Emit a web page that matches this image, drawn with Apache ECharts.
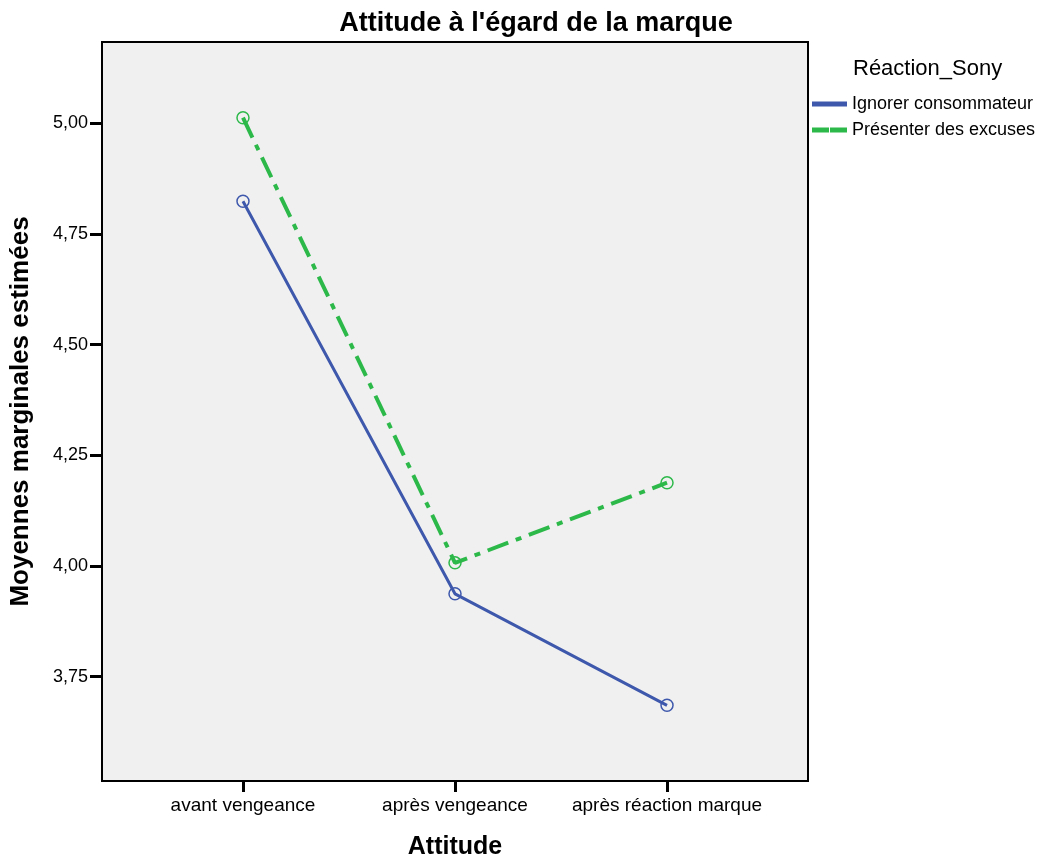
<!DOCTYPE html>
<html>
<head>
<meta charset="utf-8">
<script src="https://cdn.jsdelivr.net/npm/echarts@6/dist/echarts.min.js"></script>
<style>
  html, body { margin: 0; padding: 0; background: #fff; }
  #chart { width: 1052px; height: 865px; }
</style>
</head>
<body>
<div id="chart"></div>
<script>
// categories on x (placed at index 0,1,2)
const categories = ['avant vengeance', 'après vengeance', 'après réaction marque'];
const seriesNames = ['Ignorer consommateur', 'Présenter des excuses'];
const ignorerValues = [4.824, 3.937, 3.685];
const excusesValues = [5.013, 4.007, 4.188];
const yTicks = [3.75, 4.00, 4.25, 4.50, 4.75, 5.00];

const FONT = 'Liberation Sans';
const BLUE = '#3e58ac';
const GREEN = '#2db84a';

const chart = echarts.init(document.getElementById('chart'));
chart.setOption({
  animation: false,
  textStyle: { fontFamily: FONT },
  title: {
    text: "Attitude à l'égard de la marque",
    left: 531,
    textAlign: 'center',
    top: 5,
    textStyle: { fontFamily: FONT, fontSize: 27, fontWeight: 'bold', color: '#000' }
  },
  legend: {
    orient: 'vertical',
    left: 812,
    top: 95,
    padding: 0,
    itemWidth: 33,
    itemHeight: 3,
    itemGap: 8,
    data: [
      { name: seriesNames[0], icon: 'rect', itemStyle: { color: BLUE } },
      { name: seriesNames[1], icon: 'path://M0,0H15V3H0Z M18,0H33V3H18Z', itemStyle: { color: GREEN } }
    ],
    textStyle: { fontFamily: FONT, fontSize: 18, color: '#000', padding: [0, 0, 0, 1] }
  },
  graphic: [{
    type: 'text',
    left: 853,
    top: 58,
    style: { text: 'Réaction_Sony', fontFamily: FONT, fontSize: 22, fill: '#000' }
  }],
  grid: {
    left: 102, right: 244, top: 42, bottom: 76,
    show: true,
    backgroundColor: '#f0f0f0',
    borderColor: '#000',
    borderWidth: 2
  },
  xAxis: {
    type: 'value',
    min: -0.665,
    max: 2.665,
    name: 'Attitude',
    nameLocation: 'middle',
    nameGap: 54,
    nameTextStyle: { fontFamily: FONT, fontSize: 25, fontWeight: 'bold', color: '#000' },
    axisLine: { show: true, onZero: false, lineStyle: { color: '#000', width: 2 } },
    axisTick: { show: true, length: 11, lineStyle: { color: '#000', width: 3 }, customValues: [0, 1, 2] },
    axisLabel: {
      customValues: [0, 1, 2],
      formatter: v => categories[Math.round(v)],
      fontFamily: FONT, fontSize: 19, color: '#000', margin: 15
    },
    splitLine: { show: false }
  },
  yAxis: {
    type: 'value',
    min: 3.514,
    max: 5.184,
    name: 'Moyennes marginales estimées',
    nameLocation: 'middle',
    nameGap: 68,
    nameTextStyle: { fontFamily: FONT, fontSize: 26, fontWeight: 'bold', color: '#000' },
    axisLine: { show: true, onZero: false, lineStyle: { color: '#000', width: 2 } },
    axisTick: { show: true, length: 12, lineStyle: { color: '#000', width: 3 }, customValues: yTicks },
    axisLabel: {
      customValues: yTicks,
      formatter: v => v.toFixed(2).replace('.', ','),
      fontFamily: FONT, fontSize: 18, color: '#000', margin: 14
    },
    splitLine: { show: false }
  },
  series: [
    {
      name: seriesNames[0],
      type: 'line',
      data: ignorerValues.map((v, i) => [i, v]),
      lineStyle: { color: BLUE, width: 3 },
      symbol: 'circle',
      symbolSize: 12,
      itemStyle: { color: 'rgba(0,0,0,0)', borderColor: BLUE, borderWidth: 1.5 }
    },
    {
      name: seriesNames[1],
      type: 'line',
      data: excusesValues.map((v, i) => [i, v]),
      lineStyle: { color: GREEN, width: 4, type: [22, 8, 6, 8] },
      symbol: 'circle',
      symbolSize: 12,
      itemStyle: { color: 'rgba(0,0,0,0)', borderColor: GREEN, borderWidth: 1.5 }
    }
  ]
});
</script>
</body>
</html>
